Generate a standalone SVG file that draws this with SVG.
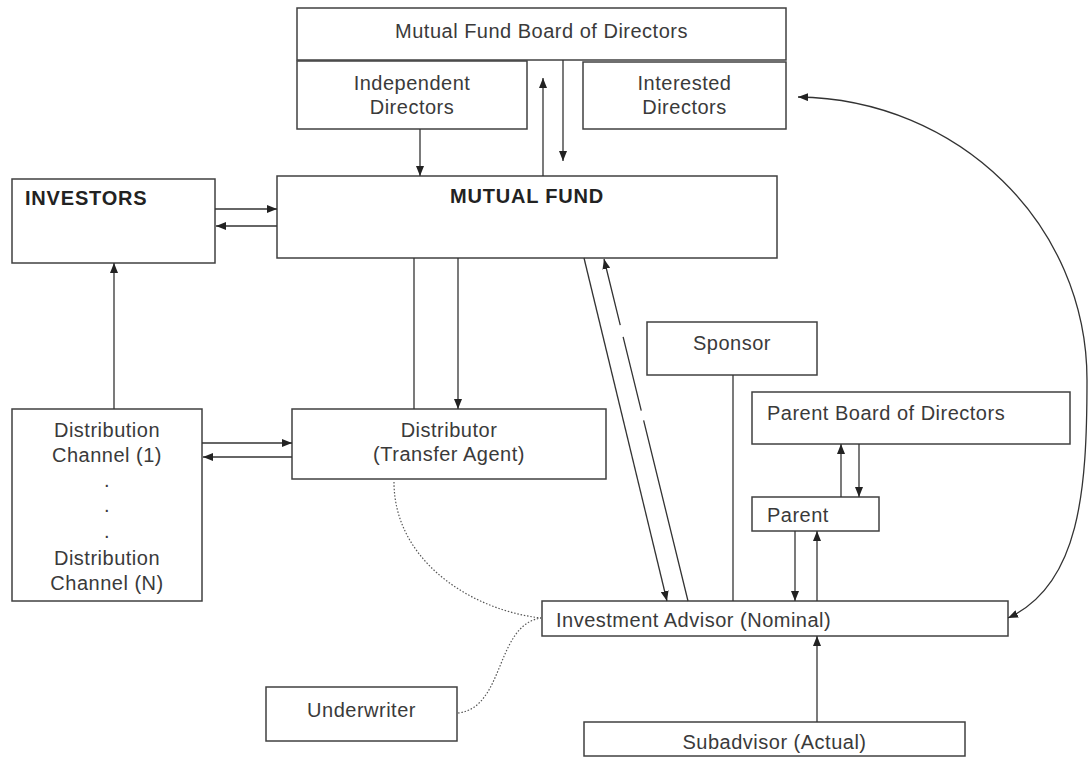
<svg xmlns="http://www.w3.org/2000/svg" width="1088" height="758" viewBox="0 0 1088 758">
<style>
.box{fill:#fff;stroke:#404040;stroke-width:1.5}
.t{font-family:"Liberation Sans",Arial,sans-serif;font-size:20px;fill:#3a3a3a;letter-spacing:0.5px}
.c{text-anchor:middle}
.b{font-weight:bold;fill:#222;letter-spacing:0.8px}
.ln{fill:none;stroke:#333;stroke-width:1.3}
.ar{marker-end:url(#ah)}
.dot{fill:none;stroke:#555;stroke-width:1.2;stroke-dasharray:1.5 1.8}
</style>
<defs>
<marker id="ah" markerUnits="userSpaceOnUse" markerWidth="10" markerHeight="8" refX="10" refY="4" orient="auto-start-reverse">
<path d="M0,0 L10,4 L0,8 Z" fill="#222"/>
</marker>
</defs>
<rect width="1088" height="758" fill="#fff"/>

<g id="board">
<rect class="box" x="297" y="8" width="489" height="52"/>
<text class="t c" x="541.5" y="38">Mutual Fund Board of Directors</text>
</g>
<g id="independent">
<rect class="box" x="297" y="61" width="230" height="68"/>
<text class="t c" x="412" y="90">Independent</text>
<text class="t c" x="412" y="113.5">Directors</text>
</g>
<g id="interested">
<rect class="box" x="583" y="62" width="203" height="67"/>
<text class="t c" x="684.5" y="90">Interested</text>
<text class="t c" x="684.5" y="113.5">Directors</text>
</g>
<g id="mutualfund">
<rect class="box" x="277" y="176" width="500" height="82"/>
<text class="t c b" x="527" y="203">MUTUAL FUND</text>
</g>
<g id="investors">
<rect class="box" x="12" y="179" width="203" height="84"/>
<text class="t b" x="25" y="205">INVESTORS</text>
</g>
<g id="channels">
<rect class="box" x="12" y="409" width="190" height="192"/>
<text class="t c" x="107" y="437">Distribution</text>
<text class="t c" x="107" y="462">Channel (1)</text>
<text class="t c" x="107" y="487">.</text>
<text class="t c" x="107" y="512">.</text>
<text class="t c" x="107" y="538">.</text>
<text class="t c" x="107" y="565">Distribution</text>
<text class="t c" x="107" y="590">Channel (N)</text>
</g>
<g id="distributor">
<rect class="box" x="292" y="409" width="314" height="70"/>
<text class="t c" x="449" y="437">Distributor</text>
<text class="t c" x="449" y="461">(Transfer Agent)</text>
</g>
<g id="sponsor">
<rect class="box" x="647" y="322" width="170" height="53"/>
<text class="t c" x="732" y="350">Sponsor</text>
</g>
<g id="parentboard">
<rect class="box" x="752" y="392" width="318" height="52"/>
<text class="t" x="767" y="420">Parent Board of Directors</text>
</g>
<g id="parent">
<rect class="box" x="752" y="497" width="127" height="34"/>
<text class="t" x="767" y="522">Parent</text>
</g>
<g id="advisor">
<rect class="box" x="542" y="601" width="466" height="35"/>
<text class="t" x="556" y="627">Investment Advisor (Nominal)</text>
</g>
<g id="subadvisor">
<rect class="box" x="584" y="722" width="381" height="34"/>
<text class="t c" x="774.5" y="749">Subadvisor (Actual)</text>
</g>
<g id="underwriter">
<rect class="box" x="266" y="687" width="191" height="54"/>
<text class="t c" x="361.5" y="717">Underwriter</text>
</g>

<g id="connectors">
<line class="ln ar" x1="420" y1="129" x2="420" y2="176"/>
<line class="ln ar" x1="543" y1="176" x2="543" y2="78"/>
<line class="ln ar" x1="563" y1="60" x2="563" y2="161"/>
<line class="ln ar" x1="215" y1="209" x2="277" y2="209"/>
<line class="ln ar" x1="277" y1="226" x2="216" y2="226"/>
<line class="ln ar" x1="114" y1="409" x2="114" y2="263"/>
<line class="ln ar" x1="202" y1="443" x2="292" y2="443"/>
<line class="ln ar" x1="292" y1="457" x2="203" y2="457"/>
<line class="ln" x1="414" y1="258" x2="414" y2="409"/>
<line class="ln ar" x1="458" y1="258" x2="458" y2="409"/>
<line class="ln ar" x1="584" y1="258" x2="667" y2="601"/>
<line class="ln ar" x1="688" y1="601" x2="604" y2="259" stroke-dasharray="186 10 76 12 400"/>
<line class="ln" x1="733" y1="375" x2="733" y2="601"/>
<line class="ln ar" x1="841" y1="497" x2="841" y2="444"/>
<line class="ln ar" x1="859" y1="444" x2="859" y2="497"/>
<line class="ln ar" x1="795" y1="531" x2="795" y2="601"/>
<line class="ln ar" x1="817" y1="601" x2="817" y2="531"/>
<line class="ln ar" x1="817" y1="722" x2="817" y2="636"/>
<path class="ln" style="marker-start:url(#ah);marker-end:url(#ah)" d="M798,97 C958,99 1087,224 1087,380 C1087,490 1080,585 1008,618"/>
<path class="dot" d="M394,482 C394,560 470,610 541,618"/>
<path class="dot" d="M458,713 C505,708 495,625 541,618"/>
</g>
</svg>
